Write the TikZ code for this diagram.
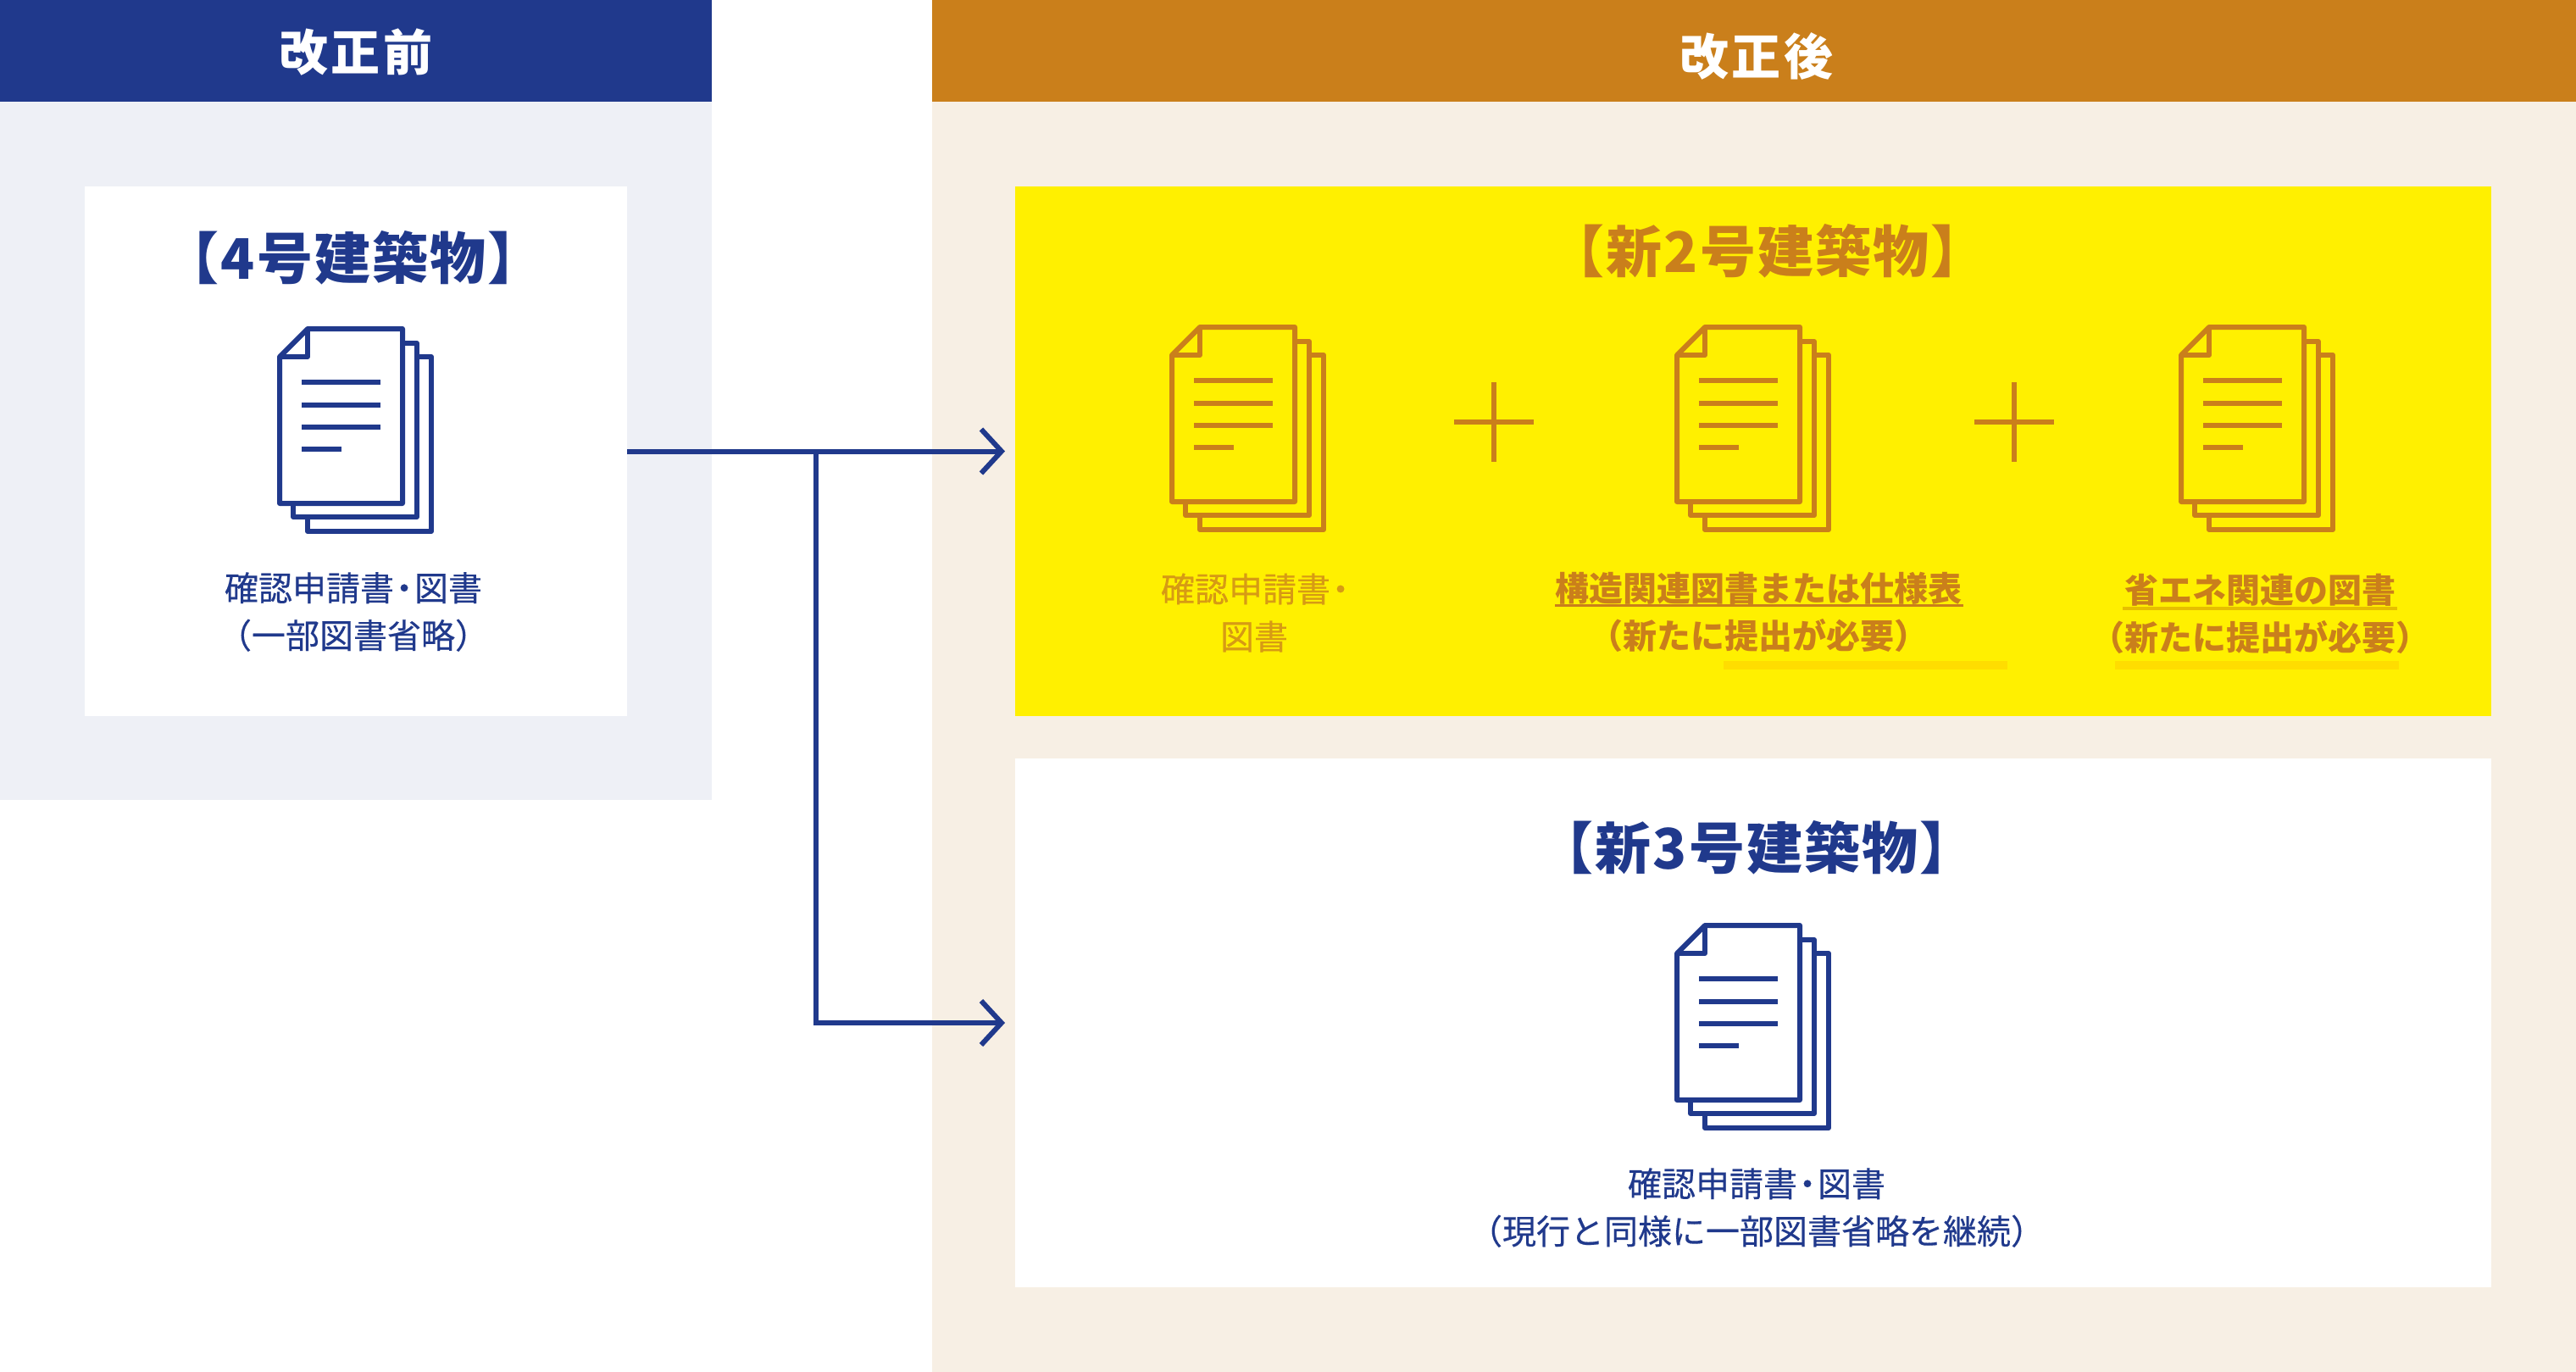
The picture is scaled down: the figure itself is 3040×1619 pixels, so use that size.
\documentclass[tikz,border=0pt]{standalone}
\usepackage{fontspec}
\usetikzlibrary{arrows.meta,calc}
\setmainfont{Noto Sans CJK JP}
\newcommand{\dotmid}{\kern-.2em ・\kern-.2em }
\definecolor{navy}{HTML}{20398C}
\definecolor{ochre}{HTML}{CA7F1B}
\definecolor{paleblue}{HTML}{EEF0F6}
\definecolor{beige}{HTML}{F7EFE4}
\definecolor{brightyellow}{HTML}{FFF000}
\definecolor{baryellow}{HTML}{FFDD00}
\definecolor{lineyellow}{HTML}{E6BE00}
\tikzset{
  panel/.style={rectangle,inner sep=0pt,outer sep=0pt,minimum width=#1},
  headtext/.style={text=white,font=\fontsize{58}{60}\selectfont\bfseries\addfontfeature{LetterSpace=6}},
  titletext/.style={font=\fontsize{66}{70}\selectfont\bfseries\addfontfeature{LetterSpace=3}},
  bodytext/.style={align=center,inner sep=0pt,font=\fontsize{40}{56}\selectfont\addfontfeature{FakeBold=0.4}},
  strongtext/.style={align=center,inner sep=0pt,font=\fontsize{40}{56}\selectfont\bfseries},
  flow/.style={draw=navy,line width=6pt,-{Straight Barb[length=24pt,width=52pt,line width=6pt]}},
  plussign/.style={line width=6pt},
  pics/docsheets/.style={code={
    \begin{scope}[line width=6pt,line join=round,draw=#1]
      \draw (16,206) -- (16,222) -- (162,222) -- (162,17) -- (145,17);
      \draw (33,222) -- (33,239) -- (179,239) -- (179,33) -- (162,33);
      \draw (0,33) -- (33,0) -- (145,0) -- (145,206) -- (0,206) -- cycle;
      \draw (0,33) -- (33,33) -- (33,0);
      \draw[line cap=butt] (26,63) -- (119,63) (26,90) -- (119,90) (26,116) -- (119,116) (26,142) -- (73,142);
    \end{scope}
  }},
}
\begin{document}
\begin{tikzpicture}[x=1pt,y=-1pt]
\useasboundingbox[fill=white] (0,0) rectangle (3040,1619);
% panels
\node[panel=840pt,minimum height=824pt,fill=paleblue] (oldpanel) at (420,532) {};
\node[panel=840pt,minimum height=120pt,fill=navy] (oldhead) at (420,60) {};
\node[panel=1940pt,minimum height=1619pt,fill=beige] (newpanel) at (2070,809.5) {};
\node[panel=1940pt,minimum height=120pt,fill=ochre] (newhead) at (2070,60) {};
\node[panel=640pt,minimum height=625pt,fill=white] (oldbox) at (420,532.5) {};
\node[panel=1742pt,minimum height=625pt,fill=brightyellow] (yellowbox) at (2069,532.5) {};
\node[panel=1742pt,minimum height=624pt,fill=white] (lowerbox) at (2069,1207) {};
% headers
\node[headtext] (oldheadtext) at (420,62) {改正前};
\node[headtext] (newheadtext) at (2073,66) {改正後};
% titles
\node[titletext,text=navy] (oldtitle) at (417,304) {【4号建築物】};
\node[titletext,text=ochre] (yellowtitle) at (2086,296) {【新2号建築物】};
\node[titletext,text=navy] (lowertitle) at (2073,1000) {【新3号建築物】};
% icons
\pic at (330,388) {docsheets=navy};
\pic at (1383,386) {docsheets=ochre};
\pic at (1979,386) {docsheets=ochre};
\pic at (2574,386) {docsheets=ochre};
\pic at (1979,1092) {docsheets=navy};
% plus signs
\coordinate (plusa) at (1763,498);
\coordinate (plusb) at (2377,498);
\draw[plussign,ochre] ($(plusa)+(-47,0)$) -- ($(plusa)+(47,0)$);
\draw[plussign,ochre] ($(plusa)+(0,-47)$) -- ($(plusa)+(0,47)$);
\draw[plussign,ochre] ($(plusb)+(-47,0)$) -- ($(plusb)+(47,0)$);
\draw[plussign,ochre] ($(plusb)+(0,-47)$) -- ($(plusb)+(0,47)$);
% highlight marks
\fill[baryellow] (2034,780) rectangle (2369,790);
\fill[baryellow] (2496,780) rectangle (2831,790);
\fill[ochre] (1835,713) rectangle (2317,716);
\fill[lineyellow] (2505,716) rectangle (2829,720);
% body text
\node[bodytext,text=navy] (oldlabel) at (417,722) {確認申請書\dotmid 図書\\（一部図書省略）};
\node[bodytext,text=ochre,opacity=.75] (labela) at (1480,723) {確認申請書\kern-.2em ・\kern-.3em \\図書};
\node[strongtext,text=ochre] (labelb) at (2075,722) {構造関連図書または仕様表\\（新たに提出が必要）};
\node[strongtext,text=ochre] (labelc) at (2667,724) {省エネ関連の図書\\（新たに提出が必要）};
\node[bodytext,text=navy] (lowerlabel) at (2073,1425) {確認申請書\dotmid 図書\\（現行と同様に一部図書省略を継続）};
% connectors
\coordinate (junction) at (963,532.5);
\coordinate (tipa) at ($(yellowbox.west)+(-12,0)$);
\coordinate (tipb) at ($(lowerbox.west)+(-12,0)$);
\draw[flow] (oldbox.east) -- (tipa);
\draw[flow] (junction) |- (tipb);
\end{tikzpicture}
\end{document}
